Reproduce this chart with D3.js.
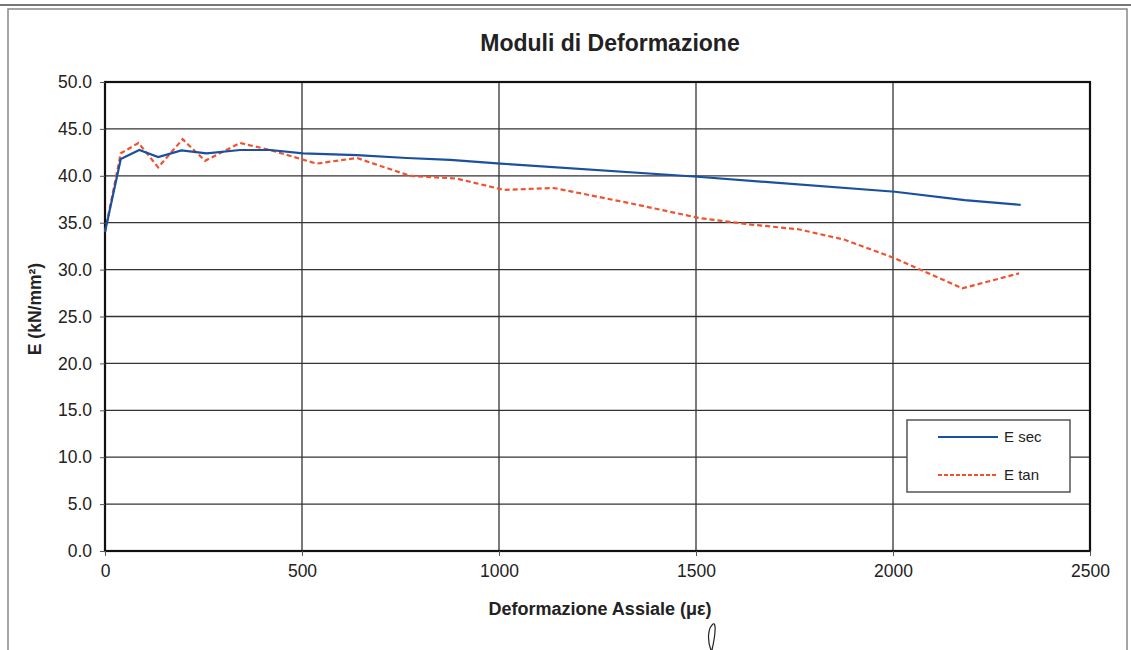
<!DOCTYPE html>
<html>
<head>
<meta charset="utf-8">
<script src="https://cdn.jsdelivr.net/npm/d3@7"></script>
<style>
  body { margin: 0; background: #fff; }
  svg { font-family: "Liberation Sans", Arial, sans-serif; }
</style>
</head>
<body>
<svg width="1131" height="650"></svg>
<script>
// strain (µε) and modulus (kN/mm²)
var secX = [0, 40, 87, 135, 194, 258, 343, 419, 503, 639, 766, 876, 1004, 1504, 2005, 2182, 2324];
var secY = [34.0, 41.8, 42.75, 42.0, 42.7, 42.4, 42.75, 42.75, 42.4, 42.2, 41.9, 41.7, 41.3, 39.9, 38.3, 37.4, 36.9];

var tanX = [0, 40, 85, 135, 197, 254, 343, 419, 537, 639, 774, 893, 1012, 1139, 1330, 1508, 1640, 1760, 1876, 2005, 2176, 2320];
var tanY = [34.0, 42.4, 43.5, 40.9, 43.9, 41.6, 43.5, 42.75, 41.3, 41.9, 40.0, 39.7, 38.5, 38.7, 37.1, 35.5, 34.8, 34.3, 33.2, 31.2, 28.0, 29.6];

var xTicks = [0, 500, 1000, 1500, 2000, 2500];
var yTicks = [0, 5, 10, 15, 20, 25, 30, 35, 40, 45, 50];

var seriesNames = ["E sec", "E tan"];
var seriesColors = ["#1b4fa0", "#f0522e"];

var svg = d3.select("svg"),
    width = +svg.attr("width"),
    height = +svg.attr("height");

var x = d3.scaleLinear().domain([0, 2500]).range([105, 1090]);
var y = d3.scaleLinear().domain([0, 50]).range([551, 82]);

// scanned page frame
svg.append("line").attr("x1", 0).attr("x2", width).attr("y1", 5).attr("y2", 5)
    .attr("stroke", "#777").attr("stroke-width", 2);
svg.append("path")
    .attr("d", "M8,660V9H1127V660")
    .attr("fill", "none").attr("stroke", "#888").attr("stroke-width", 1.5);

// grid
var grid = svg.append("g");
grid.selectAll(".hy")
  .data(yTicks.slice(1, -1))
  .enter().append("line")
    .attr("x1", x(0)).attr("x2", x(2500))
    .attr("y1", function(d) { return y(d); })
    .attr("y2", function(d) { return y(d); })
    .attr("stroke", "#333").attr("stroke-width", 1.3);
grid.selectAll(".vx")
  .data(xTicks.slice(1, -1))
  .enter().append("line")
    .attr("y1", y(0)).attr("y2", y(50))
    .attr("x1", function(d) { return x(d); })
    .attr("x2", function(d) { return x(d); })
    .attr("stroke", "#333").attr("stroke-width", 1.3);

// plot frame
svg.append("rect")
    .attr("x", x(0)).attr("y", y(50))
    .attr("width", x(2500) - x(0)).attr("height", y(0) - y(50))
    .attr("fill", "none").attr("stroke", "#111").attr("stroke-width", 2.2);

// axes
var yAxis = svg.append("g")
    .attr("transform", "translate(" + x(0) + ",0)")
    .call(d3.axisLeft(y).tickValues(yTicks).tickSize(5).tickPadding(8)
      .tickFormat(d3.format(".1f")));
var xAxis = svg.append("g")
    .attr("transform", "translate(0," + y(0) + ")")
    .call(d3.axisBottom(x).tickValues(xTicks).tickSize(5).tickPadding(9)
      .tickFormat(d3.format("d")));
[yAxis, xAxis].forEach(function(a) {
  a.select(".domain").remove();
  a.selectAll("text").attr("font-size", 17.5).attr("fill", "#222")
    .attr("font-family", "Liberation Sans, Arial, sans-serif");
  a.selectAll("line").attr("stroke", "#555");
});

// lines
var line = d3.line()
    .x(function(d) { return x(d[0]); })
    .y(function(d) { return y(d[1]); });

svg.append("path")
    .datum(d3.zip(tanX, tanY))
    .attr("d", line)
    .attr("fill", "none")
    .attr("stroke", seriesColors[1])
    .attr("stroke-width", 2.2)
    .attr("stroke-dasharray", "5,3");

svg.append("path")
    .datum(d3.zip(secX, secY))
    .attr("d", line)
    .attr("fill", "none")
    .attr("stroke", seriesColors[0])
    .attr("stroke-width", 2.2);

// titles
svg.append("text")
    .attr("x", 610).attr("y", 51)
    .attr("text-anchor", "middle")
    .attr("font-size", 23).attr("font-weight", "bold").attr("fill", "#222")
    .text("Moduli di Deformazione");

svg.append("text")
    .attr("x", 600).attr("y", 615)
    .attr("text-anchor", "middle")
    .attr("font-size", 18).attr("font-weight", "bold").attr("fill", "#222")
    .text("Deformazione Assiale (με)");

svg.append("text")
    .attr("transform", "translate(41,309) rotate(-90)")
    .attr("text-anchor", "middle")
    .attr("font-size", 17.5).attr("font-weight", "bold").attr("fill", "#222")
    .text("E (kN/mm²)");

// legend
var lg = svg.append("g").attr("transform", "translate(907,420)");
lg.append("rect")
    .attr("width", 163).attr("height", 72)
    .attr("fill", "#fff").attr("stroke", "#555").attr("stroke-width", 1.5);
lg.selectAll(".item")
  .data(seriesNames)
  .enter().append("g")
    .attr("transform", function(d, i) { return "translate(0," + (17 + i * 38) + ")"; })
    .each(function(d, i) {
      var g = d3.select(this);
      g.append("line")
        .attr("x1", 31).attr("x2", 91)
        .attr("stroke", seriesColors[i]).attr("stroke-width", 2)
        .attr("stroke-dasharray", i == 1 ? "4,2" : null);
      g.append("text")
        .attr("x", 97).attr("y", 5)
        .attr("font-size", 15).attr("fill", "#222")
        .text(d);
    });

// pen mark on the scan
svg.append("path")
    .attr("d", "M711,650 C707,640 708,628 713,624 C716,622 716,632 712,650")
    .attr("fill", "none").attr("stroke", "#222").attr("stroke-width", 1.2);
</script>
</body>
</html>
